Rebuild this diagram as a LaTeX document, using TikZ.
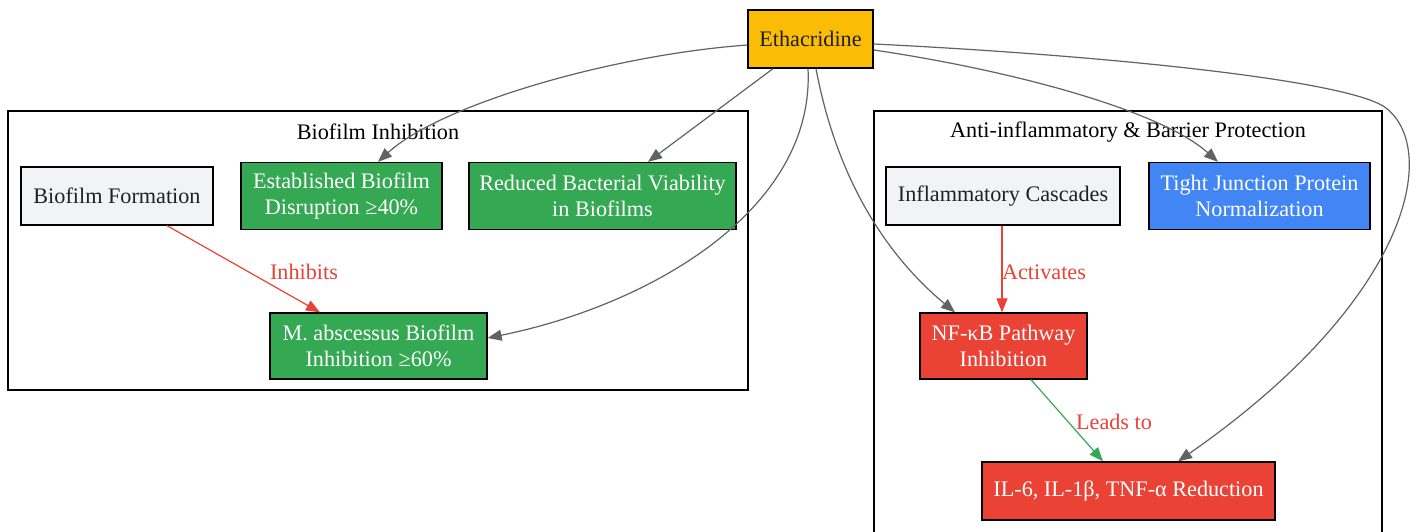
\documentclass[tikz,border=0pt]{standalone}
\usepackage{fontspec}
\setmainfont{Liberation Serif}
\usetikzlibrary{arrows.meta}
\definecolor{ygold}{HTML}{FBBC05}
\definecolor{ggreen}{HTML}{34A853}
\definecolor{gblue}{HTML}{4285F4}
\definecolor{gred}{HTML}{EA4335}
\definecolor{glight}{HTML}{F1F3F4}
\definecolor{gedge}{HTML}{5F6368}
\definecolor{gtext}{HTML}{202124}
\begin{document}
\begin{tikzpicture}[x=1pt,y=-1pt,
  font=\fontsize{22.2}{26}\selectfont,
  box/.style={draw=black,line width=1.3pt,inner sep=0pt,align=center,anchor=center},
  lightbox/.style={box,fill=glight,text=gtext},
  greenbox/.style={box,fill=ggreen,text=white},
  bluebox/.style={box,fill=gblue,text=white},
  redbox/.style={box,fill=gred,text=white},
  cluster/.style={draw=black,line width=1.3pt},
  conn/.style={draw=gedge,line width=1.2pt,-{Triangle[length=14pt,width=11pt]}},
  redconn/.style={conn,draw=gred,-{Triangle[length=14pt,width=11pt,fill=gred]}},
  greenconn/.style={conn,draw=ggreen,-{Triangle[length=14pt,width=11pt,fill=ggreen]}},
  elabel/.style={text=gred}
]
\useasboundingbox (0,0) rectangle (1418,531);
\fill[white] (0,0) rectangle (1418,531);
% clusters
\draw[cluster] (8,111) rectangle (748,390);
\node (c1) at (378,132) {Biofilm Inhibition};
\begin{scope}
\clip (0,0) rectangle (1418,531);
\draw[cluster] (874,111) rectangle (1382,560);
\end{scope}
\node (c2) at (1128,132) {Anti-inflammatory \& Barrier Protection};
% nodes
\node[box,fill=ygold,text=gtext,minimum width=125pt,minimum height=58pt] (eth) at (810.5,39) {Ethacridine};
\node[lightbox,minimum width=192pt,minimum height=58pt] (bf) at (117,196) {Biofilm Formation};
\node[greenbox,minimum width=201pt,minimum height=67pt] (est) at (341.5,196) {Established Biofilm\\Disruption ≥40\%};
\node[greenbox,minimum width=267pt,minimum height=67pt] (red) at (602.5,196) {Reduced Bacterial Viability\\in Biofilms};
\node[greenbox,minimum width=217pt,minimum height=66pt] (mab) at (378.5,346) {M. abscessus Biofilm\\Inhibition ≥60\%};
\node[lightbox,minimum width=234pt,minimum height=58pt] (inf) at (1003,196) {Inflammatory Cascades};
\node[bluebox,minimum width=221pt,minimum height=67pt] (tj) at (1259.5,196) {Tight Junction Protein\\Normalization};
\node[redbox,minimum width=167pt,minimum height=66pt] (nf) at (1003.5,346) {NF-κB Pathway\\Inhibition};
\node[redbox,minimum width=293pt,minimum height=58pt] (il) at (1128.5,491) {IL-6, IL-1β, TNF-α Reduction};
% connectors
\coordinate (loop) at (1386,108);
\draw[conn] (eth.west |- 0,45) .. controls (610,55) and (440,105) .. (est.north -| 378,0);
\draw[conn] (eth.south -| 773,0) -- (red.north -| 648,0);
\draw[conn] (eth.south -| 808,0) .. controls (815,210) and (650,305) .. (mab.east |- 0,338);
\draw[conn] (eth.south -| 816,0) .. controls (835,170) and (880,250) .. (nf.north -| 955,0);
\draw[conn] (eth.east |- 0,50) .. controls (1010,70) and (1160,110) .. (tj.north -| 1218,0);
\draw[gedge,line width=1.2pt] (eth.east |- 0,44) .. controls (1100,55) and (1350,80) .. (loop);
\draw[conn] (loop) .. controls (1440,150) and (1410,300) .. (il.north -| 1178,0);
\draw[redconn] (bf.south -| 167,0) -- (mab.north -| 320,0);
\node[elabel] (lb1) at (304,272) {Inhibits};
\draw[redconn] (inf.south -| 1002,0) -- (nf.north -| 1002,0);
\node[elabel] (lb2) at (1044,272) {Activates};
\draw[greenconn] (nf.south -| 1031,0) -- (il.north -| 1103,0);
\node[elabel] (lb3) at (1114,422) {Leads to};
\end{tikzpicture}
\end{document}
